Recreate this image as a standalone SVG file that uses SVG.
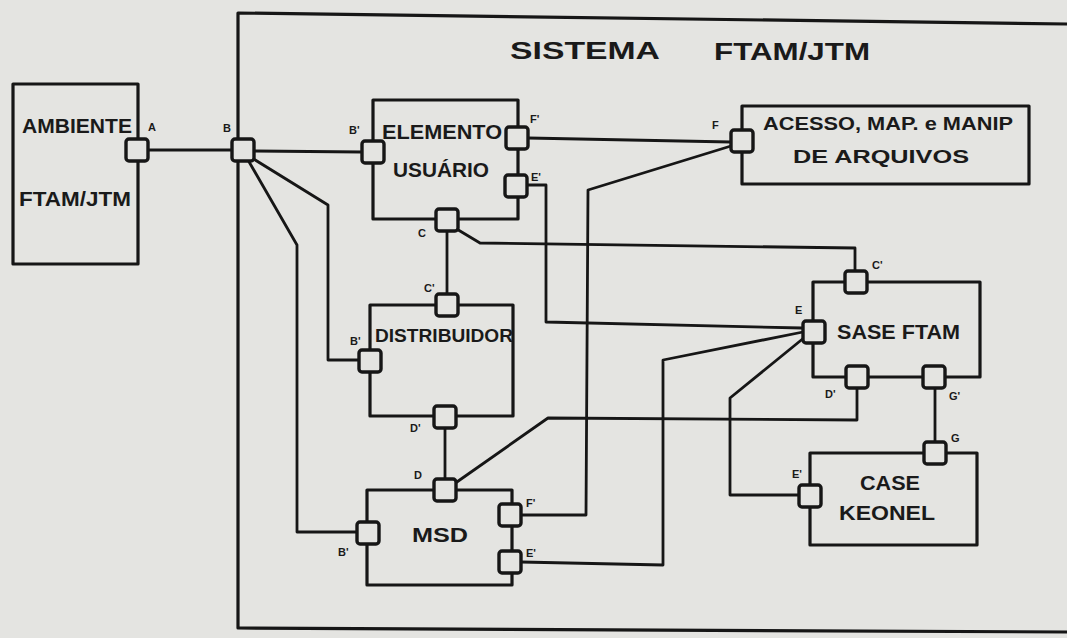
<svg xmlns="http://www.w3.org/2000/svg" width="1067" height="638" viewBox="0 0 1067 638">
<style>
.bx{fill:none;stroke:#161616;stroke-width:3.2;stroke-linejoin:round}
.pt{fill:#e4e4e1;stroke:#161616;stroke-width:3.4}
.ln{fill:none;stroke:#161616;stroke-width:2.8;stroke-linejoin:round}
.t{font-family:"Liberation Sans",Arial,sans-serif;font-weight:bold;fill:#1a1a1a;font-size:20px}
.l{font-family:"Liberation Sans",Arial,sans-serif;font-weight:bold;fill:#1a1a1a;font-size:11px}
</style>
<rect width="1067" height="638" fill="#e4e4e1"/>
<g id="sistema">
<path class="bx" d="M1067,24 L238,13 L238,628 L1067,632"/>
<text class="t" x="510" y="59" textLength="150" lengthAdjust="spacingAndGlyphs" style="font-size:23px">SISTEMA</text>
<text class="t" x="714" y="60" textLength="156" lengthAdjust="spacingAndGlyphs" style="font-size:23px">FTAM/JTM</text>
</g>
<g id="connectors">
<polyline class="ln" points="148,150 232,150"/>
<polyline class="ln" points="255,151 362,152"/>
<polyline class="ln" points="252,158 328,205 328,360 359,360"/>
<polyline class="ln" points="248,160 297,245 297,532 357,532"/>
<polyline class="ln" points="528,138 731,142"/>
<polyline class="ln" points="731,146 588,190 586,515 521,515"/>
<polyline class="ln" points="526,185 546,185 546,322 802,328"/>
<polyline class="ln" points="447,231 447,294"/>
<polyline class="ln" points="455,228 480,243 855,248 855,271"/>
<polyline class="ln" points="445,428 445,479"/>
<polyline class="ln" points="454,484 548,418 857,420 857,388"/>
<polyline class="ln" points="521,562 663,565 663,360 803,332"/>
<polyline class="ln" points="799,495 730,495 730,398 805,337"/>
<polyline class="ln" points="935,388 935,442"/>
</g>
<g id="ambiente">
<rect class="bx" x="13" y="84" width="125" height="180"/>
<text class="t" x="22" y="133" textLength="110" lengthAdjust="spacingAndGlyphs">AMBIENTE</text>
<text class="t" x="19" y="206" textLength="112" lengthAdjust="spacingAndGlyphs">FTAM/JTM</text>
<rect class="pt" x="126" y="139" width="22" height="22" rx="3"/>
<text class="l" x="148" y="131">A</text>
</g>
<g id="porta-b">
<rect class="pt" x="232" y="139" width="22" height="22" rx="3"/>
<text class="l" x="223" y="132">B</text>
</g>
<g id="elemento-usuario">
<rect class="bx" x="373" y="100" width="145" height="119"/>
<text class="t" x="382" y="139" textLength="120" lengthAdjust="spacingAndGlyphs">ELEMENTO</text>
<text class="t" x="393" y="177" textLength="96" lengthAdjust="spacingAndGlyphs">USUÁRIO</text>
<rect class="pt" x="362" y="141" width="22" height="22" rx="3"/>
<rect class="pt" x="506" y="127" width="22" height="22" rx="3"/>
<rect class="pt" x="505" y="175" width="22" height="22" rx="3"/>
<rect class="pt" x="436" y="209" width="22" height="22" rx="3"/>
<text class="l" x="349" y="134">B'</text>
<text class="l" x="530" y="123">F'</text>
<text class="l" x="531" y="181">E'</text>
<text class="l" x="418" y="237">C</text>
</g>
<g id="acesso">
<rect class="bx" x="742" y="106" width="287" height="78"/>
<text class="t" x="763" y="130" textLength="250" lengthAdjust="spacingAndGlyphs" style="font-size:18px">ACESSO, MAP. e MANIP</text>
<text class="t" x="793" y="163" textLength="176" lengthAdjust="spacingAndGlyphs" style="font-size:19px">DE ARQUIVOS</text>
<rect class="pt" x="731" y="130" width="22" height="22" rx="3"/>
<text class="l" x="712" y="129">F</text>
</g>
<g id="distribuidor">
<rect class="bx" x="370" y="305" width="143" height="111"/>
<text class="t" x="375" y="342" textLength="138" lengthAdjust="spacingAndGlyphs" style="font-size:19px">DISTRIBUIDOR</text>
<rect class="pt" x="436" y="294" width="22" height="22" rx="3"/>
<rect class="pt" x="359" y="350" width="22" height="22" rx="3"/>
<rect class="pt" x="434" y="406" width="22" height="22" rx="3"/>
<text class="l" x="424" y="292">C'</text>
<text class="l" x="350" y="345">B'</text>
<text class="l" x="410" y="432">D'</text>
</g>
<g id="msd">
<rect class="bx" x="367" y="490" width="145" height="95"/>
<text class="t" x="412" y="542" textLength="56" lengthAdjust="spacingAndGlyphs">MSD</text>
<rect class="pt" x="434" y="479" width="22" height="22" rx="3"/>
<rect class="pt" x="357" y="522" width="22" height="22" rx="3"/>
<rect class="pt" x="499" y="504" width="22" height="22" rx="3"/>
<rect class="pt" x="499" y="551" width="22" height="22" rx="3"/>
<text class="l" x="414" y="479">D</text>
<text class="l" x="338" y="556">B'</text>
<text class="l" x="526" y="507">F'</text>
<text class="l" x="526" y="557">E'</text>
</g>
<g id="sase-ftam">
<rect class="bx" x="813" y="282" width="167" height="95"/>
<text class="t" x="837" y="339" textLength="123" lengthAdjust="spacingAndGlyphs">SASE FTAM</text>
<rect class="pt" x="845" y="271" width="22" height="22" rx="3"/>
<rect class="pt" x="803" y="321" width="22" height="22" rx="3"/>
<rect class="pt" x="846" y="366" width="22" height="22" rx="3"/>
<rect class="pt" x="923" y="366" width="22" height="22" rx="3"/>
<text class="l" x="872" y="269">C'</text>
<text class="l" x="795" y="314">E</text>
<text class="l" x="825" y="398">D'</text>
<text class="l" x="949" y="400">G'</text>
</g>
<g id="case-keonel">
<rect class="bx" x="810" y="453" width="167" height="92"/>
<text class="t" x="860" y="490" textLength="60" lengthAdjust="spacingAndGlyphs">CASE</text>
<text class="t" x="839" y="520" textLength="96" lengthAdjust="spacingAndGlyphs">KEONEL</text>
<rect class="pt" x="924" y="442" width="22" height="22" rx="3"/>
<rect class="pt" x="799" y="485" width="22" height="22" rx="3"/>
<text class="l" x="951" y="442">G</text>
<text class="l" x="792" y="478">E'</text>
</g>
</svg>
